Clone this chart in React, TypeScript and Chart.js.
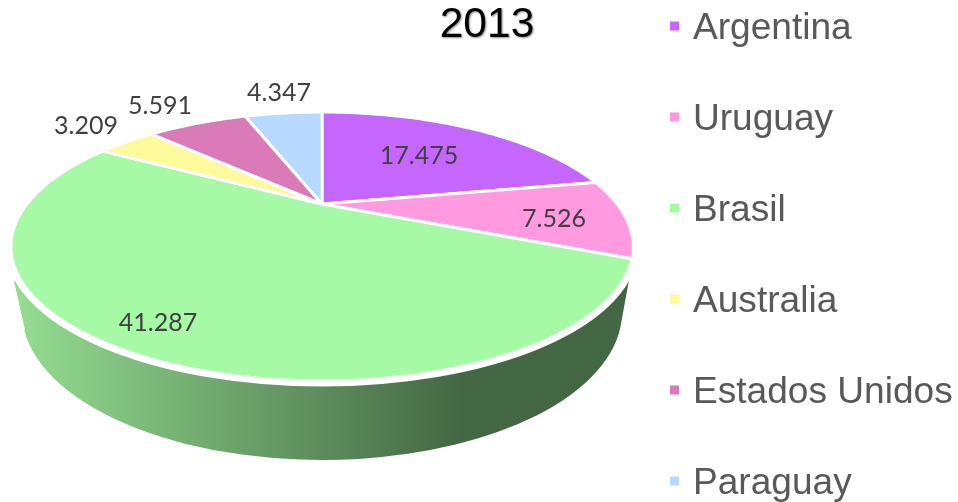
import React, { useEffect, useRef } from "react";
import { Chart, registerables } from "chart.js";

Chart.register(...registerables);

const titleText = "2013";
const categories = ["Argentina", "Uruguay", "Brasil", "Australia", "Estados Unidos", "Paraguay"];
const values = [17475, 7526, 41287, 3209, 5591, 4347];
const sliceColors = ["#C566FF", "#FF99E0", "#A6FAA6", "#FCFA9A", "#DA7AB8", "#B8D9FF"];

// Layout of the tilted pie (perspective view of a disc)
const CX = 322;
const CY = 246.5;
const RX = 311;
const RY = 134.5;
const APEX_Y = 204;
const C = (APEX_Y - CY) / RY;
const S = Math.sqrt(1 - C * C);

const labelPositions = [
  [419, 155.5],
  [554, 218.5],
  [158, 322.5],
  [86, 125.5],
  [160, 105.5],
  [279, 92.5],
];

const fmt = (v: number) => String(v).replace(/(\d)(\d{3})$/, "$1.$2");

function project(a: number, r = 1): [number, number] {
  const x = Math.cos(a) * r;
  const y = Math.sin(a) * r;
  const d = 1 + C * y;
  return [CX + (RX * x * S) / d, CY + (RY * (y + C)) / d];
}

function drawWall(ctx: CanvasRenderingContext2D) {
  const bx = CX, by = 312, brx = 300, bry = 148;
  ctx.save();
  const g = ctx.createLinearGradient(20, 0, 462, 0);
  g.addColorStop(0, "#93DC90");
  g.addColorStop(1, "#436743");
  ctx.fillStyle = g;
  ctx.beginPath();
  ctx.moveTo(14, 281);
  ctx.lineTo(25, 330);
  const aL = Math.PI - Math.asin((330 - by) / bry);
  const aR = Math.asin((328 - by) / bry);
  ctx.ellipse(bx, by, brx, bry, 0, aL, aR, true);
  ctx.lineTo(629, 280);
  ctx.closePath();
  ctx.fill();
  // white band separating the top face from the wall
  ctx.strokeStyle = "#ffffff";
  ctx.fillStyle = "#ffffff";
  ctx.lineWidth = 11;
  ctx.beginPath();
  ctx.ellipse(CX, CY, RX, RY, 0, 0, Math.PI * 2);
  ctx.fill();
  ctx.stroke();
  ctx.restore();
}

const tiltedPie = {
  id: "tiltedPie",
  beforeDatasetDraw(chart: any, args: any) {
    const ctx: CanvasRenderingContext2D = chart.ctx;
    drawWall(ctx);
    const meta = chart.getDatasetMeta(args.index);
    ctx.save();
    ctx.lineJoin = "bevel";
    meta.data.forEach((arc: any) => {
      const { startAngle, endAngle, options } = arc;
      ctx.beginPath();
      const [ax, ay] = project(0, 0);
      ctx.moveTo(ax, ay);
      const n = Math.max(8, Math.ceil((endAngle - startAngle) * 60));
      for (let i = 0; i <= n; i++) {
        const [x, y] = project(startAngle + ((endAngle - startAngle) * i) / n);
        ctx.lineTo(x, y);
      }
      ctx.closePath();
      ctx.fillStyle = options.backgroundColor;
      ctx.fill();
      ctx.strokeStyle = options.borderColor;
      ctx.lineWidth = options.borderWidth;
      ctx.stroke();
    });
    ctx.restore();
    return false;
  },
  afterDraw(chart: any) {
    const ctx: CanvasRenderingContext2D = chart.ctx;
    ctx.save();
    // data labels
    ctx.font = "25px Lato";
    ctx.fillStyle = "#404040";
    ctx.textAlign = "center";
    ctx.textBaseline = "middle";
    values.forEach((v, i) => {
      ctx.fillText(fmt(v), labelPositions[i][0], labelPositions[i][1]);
    });
    // legend
    ctx.textAlign = "left";
    ctx.textBaseline = "alphabetic";
    ctx.font = "37.1px 'Liberation Sans'";
    categories.forEach((name, i) => {
      const step = 91 * i;
      ctx.fillStyle = sliceColors[i];
      ctx.fillRect(670, 21.5 + step, 9, 9);
      ctx.fillStyle = "#595959";
      ctx.fillText(name, 693, 38.5 + step);
    });
    // title
    ctx.textAlign = "center";
    ctx.font = "42.5px 'Liberation Sans'";
    ctx.shadowColor = "rgba(0,0,0,0.45)";
    ctx.shadowBlur = 2;
    ctx.shadowOffsetX = 1;
    ctx.shadowOffsetY = 1;
    ctx.fillStyle = "#000000";
    ctx.fillText(titleText, 487, 37);
    ctx.restore();
  },
};

export default function App() {
  const ref = useRef<HTMLCanvasElement>(null);
  useEffect(() => {
    document.body.style.margin = "0";
    const chart = new Chart(ref.current as HTMLCanvasElement, {
      type: "pie",
      data: {
        labels: categories,
        datasets: [
          {
            data: values,
            backgroundColor: sliceColors,
            borderColor: "#ffffff",
            borderWidth: 3,
          },
        ],
      },
      options: {
        responsive: false,
        animation: false,
        plugins: { legend: { display: false }, title: { display: false }, tooltip: { enabled: false } },
      },
      plugins: [tiltedPie],
    } as any);
    return () => chart.destroy();
  }, []);
  return <canvas ref={ref} width={958} height={502} style={{ display: "block" }} />;
}
